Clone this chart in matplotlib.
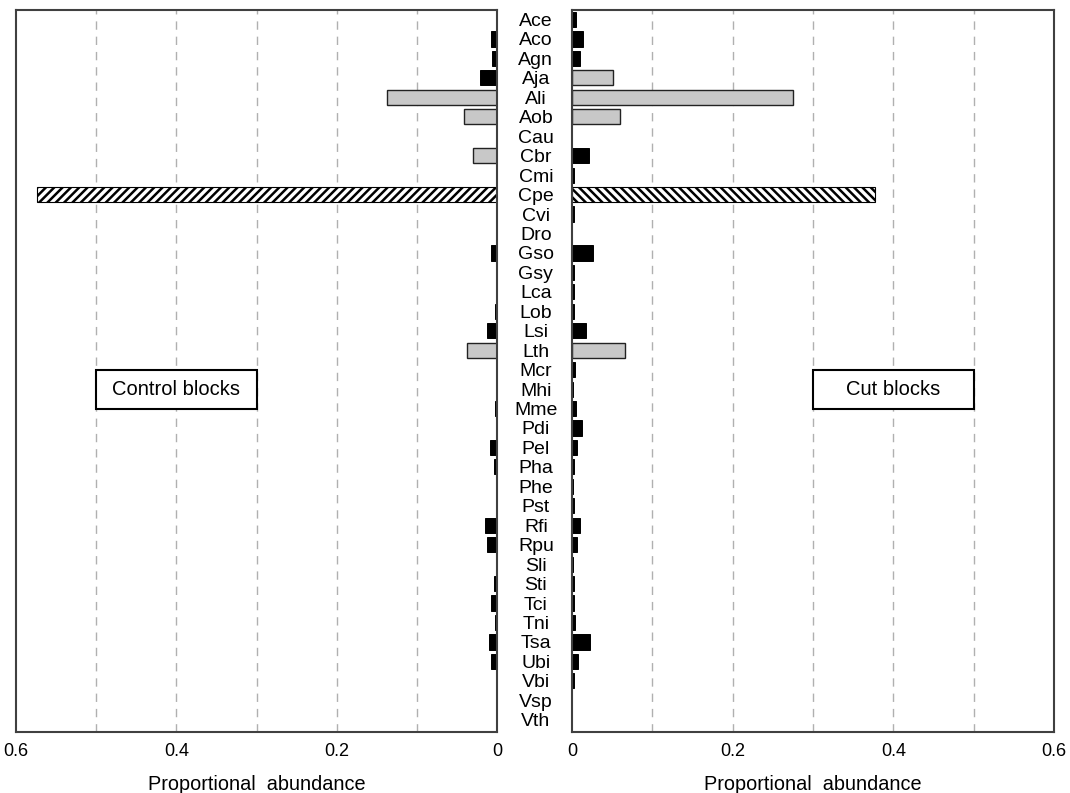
import numpy as np
import matplotlib
matplotlib.use("Agg")
import matplotlib.pyplot as plt
from matplotlib.patches import Rectangle

plt.rcParams['font.family'] = ['Liberation Sans', 'DejaVu Sans']
plt.rcParams['hatch.linewidth'] = 1.8

species = ['Ace', 'Aco', 'Agn', 'Aja', 'Ali', 'Aob', 'Cau', 'Cbr', 'Cmi', 'Cpe',
           'Cvi', 'Dro', 'Gso', 'Gsy', 'Lca', 'Lob', 'Lsi', 'Lth', 'Mcr', 'Mhi',
           'Mme', 'Pdi', 'Pel', 'Pha', 'Phe', 'Pst', 'Rfi', 'Rpu', 'Sli', 'Sti',
           'Tci', 'Tni', 'Tsa', 'Ubi', 'Vbi', 'Vsp', 'Vth']

control = [0.001, 0.008, 0.006, 0.021, 0.137, 0.041, 0.001, 0.030, 0.001, 0.574,
           0.001, 0.001, 0.008, 0.001, 0.001, 0.003, 0.0125, 0.037, 0.001, 0.001,
           0.002, 0.001, 0.009, 0.004, 0.001, 0.001, 0.015, 0.0125, 0.001, 0.004,
           0.0075, 0.003, 0.010, 0.0075, 0.001, 0.001, 0.001]

cut = [0.005, 0.014, 0.010, 0.051, 0.275, 0.060, 0.0005, 0.021, 0.002, 0.377,
       0.002, 0.0005, 0.026, 0.002, 0.002, 0.002, 0.017, 0.066, 0.004, 0.001,
       0.005, 0.012, 0.006, 0.002, 0.001, 0.002, 0.010, 0.006, 0.001, 0.002,
       0.002, 0.004, 0.022, 0.007, 0.003, 0.0005, 0.0005]

grid_x = [0.1, 0.2, 0.3, 0.4, 0.5]
tick_x = [0, 0.2, 0.4, 0.6]
tick_lab = ['0', '0.2', '0.4', '0.6']

W, H = 1070, 793
fig = plt.figure(figsize=(W / 100, H / 100), dpi=100)
ax_l = fig.add_axes([16 / W, 1 - 732 / H, 481 / W, 722 / H])
ax_r = fig.add_axes([572 / W, 1 - 732 / H, 482 / W, 722 / H])

y = np.arange(len(species))


def style(v, hatch):
    if v > 0.3:
        return dict(color='white', edgecolor='black', hatch=hatch, linewidth=0.8)
    if v >= 0.028:
        return dict(color='#c8c8c8', edgecolor='#222222', linewidth=1.0)
    return dict(color='black', edgecolor='black', linewidth=0.7)


for ax, vals, hatch, name in [(ax_l, control, '////', 'Control blocks'),
                              (ax_r, cut, '\\\\\\\\', 'Cut blocks')]:
    for gx in grid_x:
        ax.axvline(gx, color='#b0b0b0', linestyle=(0, (6, 5)), linewidth=1.0, zorder=0)
    for yi, v in zip(y, vals):
        ax.barh(yi, v, height=0.78, zorder=2, **style(v, hatch))
    ax.set_xlim(0, 0.6)
    ax.set_ylim(36.63, -0.49)
    ax.set_xticks(tick_x)
    ax.set_xticklabels(tick_lab, fontsize=13)
    ax.tick_params(axis='x', length=0, pad=8)
    ax.set_xlabel('Proportional  abundance', fontsize=14.3, labelpad=11)
    for s in ax.spines.values():
        s.set_color('#404040')
        s.set_linewidth(1.5)
    ax.add_patch(Rectangle((0.3, 18), 0.2, 2, facecolor='white',
                           edgecolor='black', linewidth=1.5, zorder=3))
    ax.text(0.4, 19, name, ha='center', va='center', fontsize=14.5, zorder=4)

ax_l.invert_xaxis()
ax_l.set_yticks([])

ax_r.set_yticks(y)
ax_r.set_yticklabels(species, ha='center', fontsize=14)
ax_r.tick_params(axis='y', length=0, pad=26)

fig.savefig('out.png', dpi=100)
